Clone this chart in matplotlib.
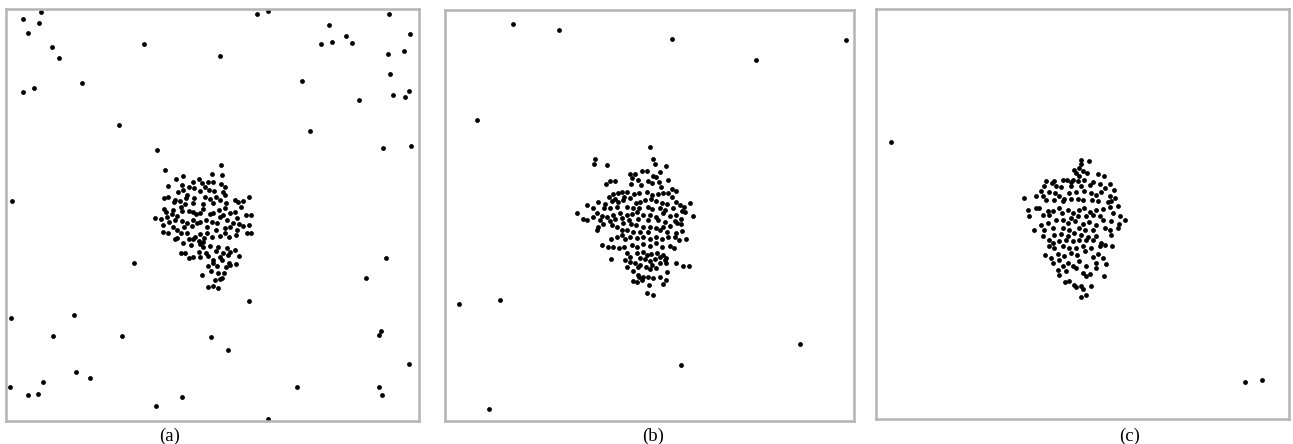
import numpy as np
import matplotlib
matplotlib.use("Agg")
import matplotlib.pyplot as plt

# point positions (pixel-ish units of each panel, y grows downwards)
noise_a = [(70, 57), (122, 37), (118, 69), (84, 100), (157, 142), (176, 175), (69, 276), (101, 266),
           (245, 250), (432, 132), (660, 168), (771, 42), (804, 33), (357, 375), (470, 450), (1168, 44),
           (987, 75), (1037, 109), (963, 132), (996, 128), (1056, 131), (1231, 104), (1164, 163),
           (1212, 153), (907, 244), (1169, 224), (1077, 300), (1178, 287), (1214, 292), (1227, 274),
           (931, 394), (1148, 445), (1234, 438), (36, 603), (403, 788), (1157, 774), (1098, 833),
           (748, 902), (34, 953), (223, 946), (160, 1008), (366, 1007), (633, 1010), (685, 1050),
           (1143, 993), (1138, 1005), (1228, 1091), (228, 1115), (270, 1134), (129, 1146), (30, 1159),
           (83, 1185), (113, 1182), (891, 1161), (1138, 1159), (1145, 1185), (546, 1191), (467, 1218),
           (804, 1255), (662, 495), (494, 511)]

cluster_a = [(550, 527), (636, 522), (667, 524), (529, 537), (596, 537), (580, 545), (607, 548), (625, 545),
             (640, 547), (676, 562), (662, 551), (504, 557), (545, 556), (568, 561), (583, 565), (616, 561),
             (627, 570), (600, 573), (669, 575), (642, 574), (548, 570), (675, 585), (534, 575), (560, 585),
             (491, 595), (505, 591), (525, 600), (559, 595), (583, 594), (615, 592), (629, 598), (649, 590),
             (660, 600), (705, 600), (728, 603), (746, 590), (521, 607), (540, 604), (555, 612), (580, 608),
             (610, 612), (640, 608), (677, 609), (713, 607), (492, 626), (497, 637), (520, 630), (543, 620),
             (547, 632), (566, 632), (580, 636), (600, 640), (610, 628), (640, 638), (658, 630), (674, 625),
             (690, 638), (706, 635), (723, 622), (739, 645), (754, 646), (500, 650), (515, 643), (532, 648),
             (588, 642), (630, 641), (660, 652), (669, 645), (465, 655), (482, 658), (508, 665), (525, 660),
             (545, 662), (560, 668), (580, 660), (601, 665), (617, 660), (635, 665), (650, 670), (680, 660),
             (698, 668), (712, 655), (728, 677), (748, 675), (489, 675), (520, 680), (532, 690), (551, 680),
             (575, 678), (592, 670), (622, 680), (648, 690), (676, 685), (690, 680), (710, 690), (716, 672),
             (490, 697), (505, 700), (530, 715), (542, 700), (562, 700), (585, 710), (601, 703), (612, 715),
             (620, 700), (636, 710), (660, 708), (675, 700), (686, 710), (708, 706), (740, 700), (752, 698),
             (525, 716), (568, 718), (580, 717), (597, 722), (608, 725), (548, 730), (572, 735), (600, 733),
             (610, 742), (630, 737), (655, 740), (680, 745), (705, 750), (543, 758), (555, 758), (598, 757),
             (618, 758), (647, 752), (670, 760), (690, 755), (568, 775), (580, 770), (600, 770), (625, 768),
             (640, 780), (660, 770), (684, 766), (716, 768), (638, 790), (650, 797), (665, 780), (690, 795),
             (707, 793), (624, 797), (607, 826), (632, 812), (655, 820), (672, 820), (645, 840), (660, 838),
             (667, 833), (625, 862), (640, 858), (653, 865), (678, 802), (686, 790)]

noise_b = [(250, 71), (386, 89), (726, 117), (1248, 121), (978, 179), (141, 361), (87, 912), (209, 899),
           (176, 1228), (755, 1095), (1111, 1031), (659, 440), (495, 477), (492, 493), (532, 496),
           (670, 476), (676, 492), (708, 498), (440, 638), (542, 776), (651, 880), (669, 885), (759, 797),
           (779, 799), (791, 647), (781, 608)]

cluster_b = [(600, 522), (616, 521), (637, 512), (650, 512), (690, 515), (671, 527), (606, 535), (625, 540),
             (655, 542), (680, 530), (715, 540), (689, 546), (540, 543), (556, 542), (527, 552), (603, 552),
             (633, 556), (667, 548), (695, 560), (728, 566), (738, 572), (565, 578), (575, 575), (590, 575),
             (612, 583), (628, 578), (650, 575), (668, 585), (685, 582), (700, 578), (715, 580), (726, 590),
             (548, 581), (537, 590), (555, 598), (583, 590), (505, 605), (525, 612), (547, 603), (565, 605),
             (580, 600), (600, 595), (617, 610), (630, 605), (645, 600), (665, 598), (680, 604), (698, 608),
             (713, 612), (740, 606), (750, 615), (762, 620), (472, 614), (490, 625), (522, 625), (540, 625),
             (560, 622), (590, 622), (610, 625), (628, 623), (655, 620), (668, 628), (690, 625), (705, 630),
             (730, 625), (757, 632), (458, 658), (472, 660), (488, 650), (500, 640), (515, 648), (530, 650),
             (548, 645), (570, 640), (590, 645), (605, 642), (620, 637), (640, 646), (660, 645), (680, 650),
             (700, 640), (720, 648), (740, 645), (765, 636), (510, 660), (540, 662), (556, 658), (575, 655),
             (598, 660), (625, 658), (655, 660), (686, 660), (706, 665), (735, 663), (753, 657), (500, 690),
             (520, 672), (545, 675), (560, 680), (580, 670), (602, 672), (618, 675), (640, 680), (660, 680),
             (680, 685), (700, 682), (720, 678), (742, 670), (755, 672), (503, 680), (575, 690), (590, 690),
             (610, 695), (630, 695), (655, 697), (690, 690), (713, 697), (738, 700), (758, 693), (543, 718),
             (560, 712), (575, 705), (585, 718), (600, 710), (620, 715), (640, 710), (660, 718), (680, 712),
             (698, 716), (716, 710), (735, 712), (748, 720), (770, 718), (515, 736), (535, 740), (548, 742),
             (568, 745), (583, 740), (605, 735), (620, 740), (640, 733), (660, 737), (680, 730), (697, 740),
             (720, 738), (733, 743), (590, 760), (600, 770), (620, 760), (640, 757), (650, 765), (665, 762),
             (683, 758), (700, 765), (710, 775), (630, 775), (645, 778), (660, 782), (675, 777), (690, 770),
             (705, 780), (740, 788), (585, 780), (600, 785), (615, 790), (630, 796), (648, 800), (668, 795),
             (690, 790), (710, 790), (590, 800), (610, 812), (625, 800), (660, 808), (680, 805), (712, 815),
             (625, 825), (640, 832), (655, 830), (670, 835), (690, 830), (710, 840), (610, 843), (620, 845),
             (635, 840), (658, 855), (700, 852), (628, 830)]

noise_c = [(86, 426), (1145, 1146), (1197, 1141), (485, 594), (514, 690)]

cluster_c = [(655, 482), (679, 484), (656, 494), (650, 505), (635, 510), (641, 520), (660, 515), (672, 520),
             (705, 524), (722, 530), (650, 530), (632, 540), (550, 545), (567, 550), (575, 545), (600, 540),
             (612, 540), (625, 548), (645, 545), (662, 540), (690, 548), (710, 552), (740, 552), (545, 560),
             (580, 558), (596, 562), (625, 560), (655, 558), (680, 555), (725, 565), (752, 572), (535, 575),
             (520, 590), (540, 588), (560, 578), (578, 580), (590, 590), (605, 598), (620, 580), (640, 578),
             (662, 575), (685, 580), (700, 586), (715, 578), (740, 590), (755, 595), (550, 600), (573, 600),
             (600, 605), (625, 598), (645, 598), (660, 600), (688, 600), (705, 605), (735, 608), (745, 605),
             (495, 632), (520, 625), (530, 625), (555, 635), (570, 635), (590, 625), (598, 640), (615, 630),
             (630, 640), (650, 632), (662, 626), (680, 638), (700, 632), (720, 628), (740, 622), (765, 620),
             (498, 648), (540, 645), (560, 645), (625, 655), (645, 648), (668, 650), (690, 645), (712, 650),
             (750, 640), (770, 650), (787, 662), (535, 675), (555, 670), (580, 660), (600, 662), (615, 670),
             (638, 665), (660, 672), (678, 668), (700, 675), (720, 660), (745, 663), (768, 672), (545, 690),
             (570, 685), (600, 685), (620, 690), (650, 685), (665, 690), (690, 690), (725, 685), (740, 690),
             (765, 685), (540, 710), (560, 720), (575, 705), (595, 702), (615, 710), (635, 700), (655, 705),
             (675, 712), (700, 708), (745, 705), (570, 730), (590, 725), (610, 720), (630, 725), (650, 720),
             (670, 720), (690, 720), (715, 730), (560, 740), (575, 745), (600, 740), (620, 745), (640, 745),
             (660, 740), (685, 745), (710, 738), (725, 735), (748, 740), (548, 765), (565, 775), (585, 762),
             (605, 768), (625, 760), (642, 765), (665, 755), (690, 772), (705, 762), (720, 775), (570, 790),
             (590, 782), (600, 800), (615, 790), (630, 800), (650, 785), (668, 800), (700, 790), (730, 792),
             (585, 812), (610, 815), (640, 805), (660, 820), (680, 822), (700, 805), (722, 828), (668, 830),
             (590, 826), (608, 848), (620, 845), (635, 855), (640, 863), (655, 858), (660, 868), (685, 860),
             (669, 885), (655, 893)]

panel_labels = ["(a)", "(b)", "(c)"]

W, H = 1293, 444
fig = plt.figure(figsize=(W / 100, H / 100), dpi=100)

# panel boxes in image pixels: left, right, top, bottom + data frame
boxes = [(6, 419, 9, 421), (445, 854, 10, 421), (876, 1289, 9, 419)]
frames = [(18, 1257, 28, 1262), (45, 1273, 30, 1263), (40, 1278, 28, 1258)]
label_x = [170, 653, 1130]
data = [noise_a + cluster_a, noise_b + cluster_b, noise_c + cluster_c]

for (l, r, t, b), (x0, x1, y0, y1), pts, lab, lx in zip(boxes, frames, data, panel_labels, label_x):
    ax = fig.add_axes([l / W, 1 - b / H, (r - l) / W, (b - t) / H])
    pts = np.array(pts)
    ax.scatter(pts[:, 0], pts[:, 1], s=12, color="black", linewidths=0)
    ax.set_xlim(x0, x1)
    ax.set_ylim(y1, y0)
    ax.set_xticks([])
    ax.set_yticks([])
    for sp in ax.spines.values():
        sp.set_color("#b4b4b4")
        sp.set_linewidth(1.8)
    fig.text(lx / W, 1 - 436 / H, lab, ha="center", va="center",
             fontsize=13.5, family="Liberation Serif")

fig.savefig("out.png", dpi=100)
